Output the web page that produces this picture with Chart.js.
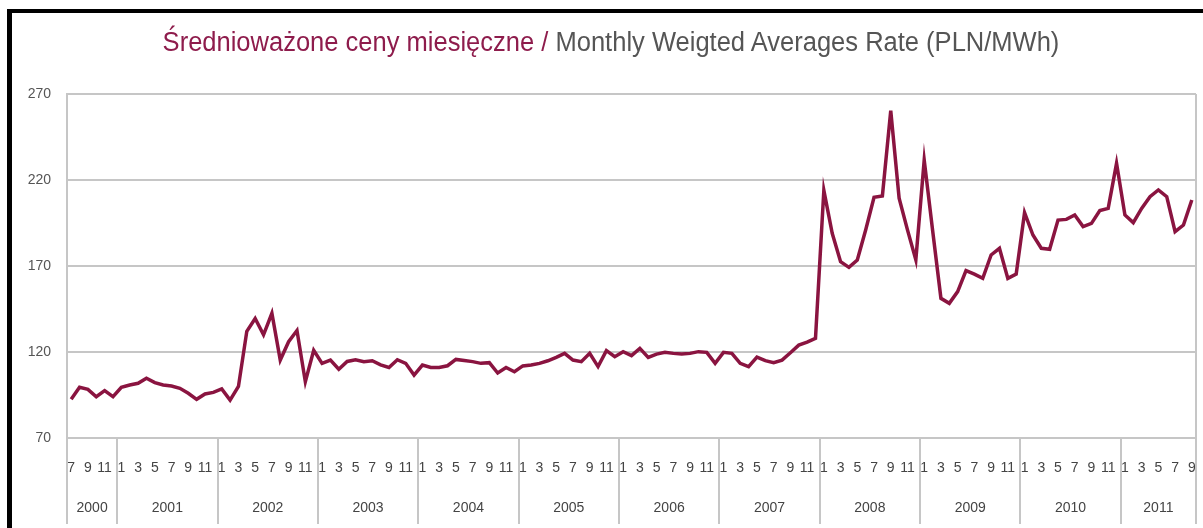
<!DOCTYPE html>
<html lang="pl">
<head>
    <meta charset="UTF-8">
    <title>Średnioważone ceny miesięczne</title>
    <script src="https://cdn.jsdelivr.net/npm/chart.js"></script>
    <style>
        body {
            margin: 0;
            background: #fff;
            font-family: "Liberation Sans Narrow", "Liberation Sans", Arial, sans-serif;
        }
        #wrap {
            position: relative;
            width: 1203px;
            height: 528px;
            overflow: hidden;
        }
        #frame {
            position: absolute;
            left: 7px;
            top: 9px;
            right: 0;
            bottom: 0;
            border-top: 4px solid #000;
            border-left: 5px solid #000;
        }
        #title {
            position: absolute;
            left: 0;
            width: 1222px;
            top: 24px;
            text-align: center;
            font-size: 27px;
            line-height: 36px;
            white-space: nowrap;
            transform: scaleX(0.945);
            transform-origin: 611px 0;
        }
        #title .pl { color: #8e1c4c; }
        #title .en { color: #555; }
        canvas {
            position: absolute;
            left: 0;
            top: 0;
        }
    </style>
</head>
<body>
<div id="wrap">
    <canvas id="priceChart" width="1203" height="528"></canvas>
    <div id="frame"></div>
    <div id="title"><span class="pl">Średnioważone ceny miesięczne / </span><span class="en">Monthly Weigted Averages Rate (PLN/MWh)</span></div>
</div>

<script>
    // monthly prices (PLN/MWh), one array per year; 2000 starts in July, 2011 ends in September
    const p2000 = [92.5, 99.5, 98.3, 94, 97.5, 94];
    const p2001 = [99.5, 100.8, 101.8, 104.7, 102.2, 100.8, 100.2, 98.9, 96, 92.5, 95.6, 96.5];
    const p2002 = [98.5, 92, 100, 132, 139.5, 130, 142.5, 115.3, 126, 132.5, 102.7, 121];
    const p2003 = [113.4, 115.3, 110, 114.5, 115.5, 114.4, 114.9, 112.5, 111, 115.5, 113.4, 106.6];
    const p2004 = [112.4, 111, 111, 112, 115.7, 115, 114.4, 113.4, 113.8, 107.8, 111, 108.5];
    const p2005 = [111.9, 112.4, 113.4, 114.9, 116.9, 119.2, 115.3, 114.4, 119.2, 111.5, 120.8, 117.3];
    const p2006 = [120.2, 117.9, 122.1, 116.9, 118.8, 119.8, 119.2, 118.8, 119.2, 120.2, 119.8, 113.4];
    const p2007 = [119.8, 119.2, 113.4, 111.5, 117, 115, 113.8, 115.3, 119.6, 124, 125.7, 128];
    const p2008 = [214, 189, 172.5, 169.2, 173.5, 190.9, 209.9, 210.7, 260.3, 209.4, 191, 173.5];
    const p2009 = [231.6, 190.9, 151.2, 148.3, 155.1, 167.3, 165.3, 162.8, 176.4, 180.3, 162.8, 165.3];
    const p2010 = [201, 188, 180.3, 179.7, 196.7, 197.1, 199.7, 192.9, 194.8, 202.2, 203.5, 229.7];
    const p2011 = [199.7, 195.2, 203.5, 210.3, 214.2, 210.3, 190, 193.8, 208.4];

    const yearLabels = ['2000', '2001', '2002', '2003', '2004', '2005', '2006', '2007', '2008', '2009', '2010', '2011'];
    const yearSeries = [p2000, p2001, p2002, p2003, p2004, p2005, p2006, p2007, p2008, p2009, p2010, p2011];
    const firstMonth2000 = 7;
    const yTicks = [70, 120, 170, 220, 270];

    // build month categories and flat series
    const monthLabels = [];
    const prices = [];
    const yearStart = [];
    yearSeries.forEach((arr, y) => {
        const m0 = y === 0 ? firstMonth2000 : 1;
        yearStart.push(monthLabels.length);
        arr.forEach((v, k) => {
            monthLabels.push(String(m0 + k));
            prices.push(v);
        });
    });

    const gridColor = '#c6c6c6';
    const textFont = '"Liberation Sans Narrow", "Liberation Sans", Arial, sans-serif';

    // year separators, year names and the right border
    const yearAxisPlugin = {
        id: 'yearAxis',
        afterDraw(chart) {
            const ctx = chart.ctx;
            const x = chart.scales.x;
            const area = chart.chartArea;
            const bottom = 524;
            ctx.save();
            ctx.strokeStyle = gridColor;
            ctx.lineWidth = 2;

            const edges = yearStart.map((s, i) => i === 0 ? area.left :
                (x.getPixelForValue(s) + x.getPixelForValue(s - 1)) / 2);
            edges.push(area.right);

            edges.forEach((px, i) => {
                ctx.beginPath();
                const top = (i === 0 || i === edges.length - 1) ? area.top : area.bottom;
                ctx.moveTo(Math.round(px), top);
                ctx.lineTo(Math.round(px), bottom);
                ctx.stroke();
            });

            ctx.fillStyle = '#444';
            ctx.font = '14px ' + textFont;
            ctx.textAlign = 'center';
            ctx.textBaseline = 'middle';
            yearLabels.forEach((lbl, i) => {
                ctx.fillText(lbl, (edges[i] + edges[i + 1]) / 2, 508);
            });
            ctx.restore();
        }
    };

    new Chart(document.getElementById('priceChart'), {
        type: 'line',
        data: {
            labels: monthLabels,
            datasets: [{
                data: prices,
                borderColor: '#8a1440',
                borderWidth: 3.5,
                pointRadius: 0,
                tension: 0,
                fill: false
            }]
        },
        options: {
            responsive: false,
            animation: false,
            layout: { padding: { top: 94, right: 7, left: 0, bottom: 0 } },
            plugins: {
                legend: { display: false },
                title: { display: false },
                tooltip: { enabled: false }
            },
            scales: {
                x: {
                    type: 'category',
                    offset: true,
                    grid: { display: false },
                    border: { display: false },
                    ticks: {
                        autoSkip: false,
                        maxRotation: 0,
                        minRotation: 0,
                        padding: 14,
                        color: '#444',
                        font: { family: textFont, size: 14 },
                        callback: function (val) {
                            const m = Number(this.getLabelForValue(val));
                            return m % 2 === 1 ? String(m) : '';
                        }
                    },
                    afterFit(scale) {
                        scale.height = 90;
                        scale.paddingLeft = 0;
                        scale.paddingRight = 0;
                    }
                },
                y: {
                    min: 70,
                    max: 270,
                    afterBuildTicks(scale) { scale.ticks = yTicks.map(v => ({ value: v })); },
                    grid: { color: gridColor, lineWidth: 2, drawTicks: false },
                    border: { display: true, color: gridColor, width: 2 },
                    ticks: {
                        padding: 16,
                        color: '#555',
                        font: { family: textFont, size: 14 }
                    },
                    afterFit(scale) { scale.width = 67; }
                }
            }
        },
        plugins: [yearAxisPlugin]
    });
</script>
</body>
</html>
